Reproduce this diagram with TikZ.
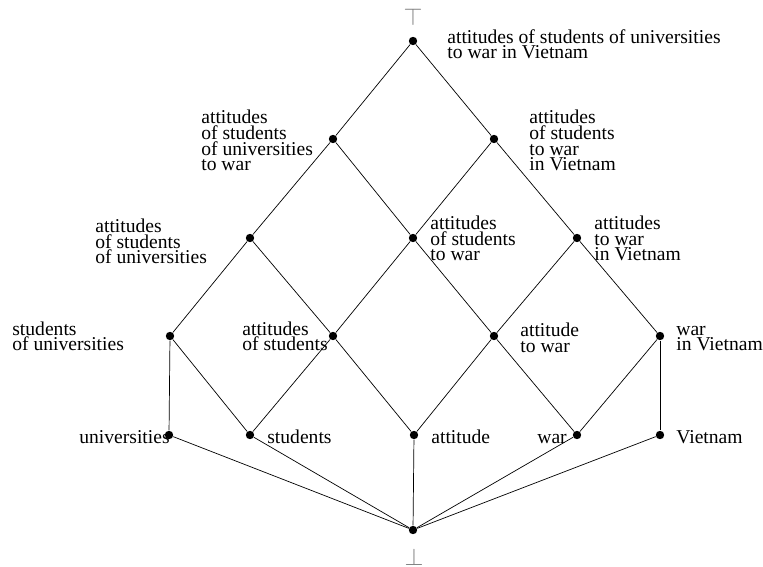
\documentclass[tikz,border=0pt]{standalone}
\usepackage{fontspec}
\setmainfont{Liberation Serif}
\usepackage{amssymb}

\begin{document}
\begin{tikzpicture}[x=0.25mm, y=-0.25mm, line width=0.5pt,
    dot/.style={circle, fill, inner sep=0pt, minimum size=2.1mm},
    lbl/.style={anchor=base west, align=left, inner sep=0pt,
      font=\fontsize{13.94}{11.24}\selectfont},
    limmark/.style={text=gray, inner sep=0pt,
      font=\fontsize{16.3}{16.3}\selectfont}]
    \useasboundingbox (0,0) rectangle (763,567);

    % concepts
    \node[dot](C1)  at (413,  41) {};
    \node[dot](C2)  at (333, 139) {};
    \node[dot](C3)  at (494, 139) {};
    \node[dot](C4)  at (250, 238) {};
    \node[dot](C5)  at (413, 238) {};
    \node[dot](C6)  at (577, 238) {};
    \node[dot](C7)  at (170, 336) {};
    \node[dot](C8)  at (333, 336) {};
    \node[dot](C9)  at (494, 336) {};
    \node[dot](C10) at (660, 336) {};
    \node[dot](C11) at (169, 435) {};
    \node[dot](C12) at (250, 435) {};
    \node[dot](C13) at (414, 435) {};
    \node[dot](C14) at (577, 435) {};
    \node[dot](C15) at (660, 435) {};
    \node[dot](C16) at (413, 530) {};

    \node[limmark](Top) at (413,  17) {$\top$};
    \node[limmark](Bot) at (414, 557) {$\bot$};

    % labels (anchored at the baseline of their last line)
    \node[lbl](L1)  at (447,  59) {attitudes of students of universities\\to war in Vietnam};
    \node[lbl](L2)  at (201, 171) {attitudes\\of students\\of universities\\to war};
    \node[lbl](L3)  at (529, 171) {attitudes\\of students\\to war\\in Vietnam};
    \node[lbl](L4)  at ( 95, 264) {attitudes\\of students\\of universities};
    \node[lbl](L5)  at (430, 261) {attitudes\\of students\\to war};
    \node[lbl](L6)  at (594, 261) {attitudes\\to war\\in Vietnam};
    \node[lbl](L7)  at ( 12, 351) {students\\of universities};
    \node[lbl](L8)  at (242, 351) {attitudes\\of students};
    \node[lbl](L9)  at (520, 352) {attitude\\to war};
    \node[lbl](L10) at (676, 351) {war\\in Vietnam};
    \node[lbl](L11) at ( 79, 443) {universities};
    \node[lbl](L12) at (267, 443) {students};
    \node[lbl](L13) at (431, 443) {attitude};
    \node[lbl](L14) at (537, 443) {war};
    \node[lbl](L15) at (676, 443) {Vietnam};

    \draw (C1) edge (C2) (C1) edge (C3)
      (C2) edge (C4) (C2) edge (C5) (C3) edge (C5) (C3) edge (C6)
      (C4) edge (C7) (C4) edge (C8) (C5) edge (C8) (C5) edge (C9)
      (C6) edge (C9) (C6) edge (C10)
      (C7) edge (C11) (C7) edge (C12) (C8) edge (C12) (C8) edge (C13)
      (C9) edge (C13) (C9) edge (C14) (C10) edge (C14) (C10) edge (C15)
      (C16) edge (C11) (C16) edge (C12) (C16) edge (C13)
      (C16) edge (C14) (C16) edge (C15);
  \end{tikzpicture}
\end{document}
